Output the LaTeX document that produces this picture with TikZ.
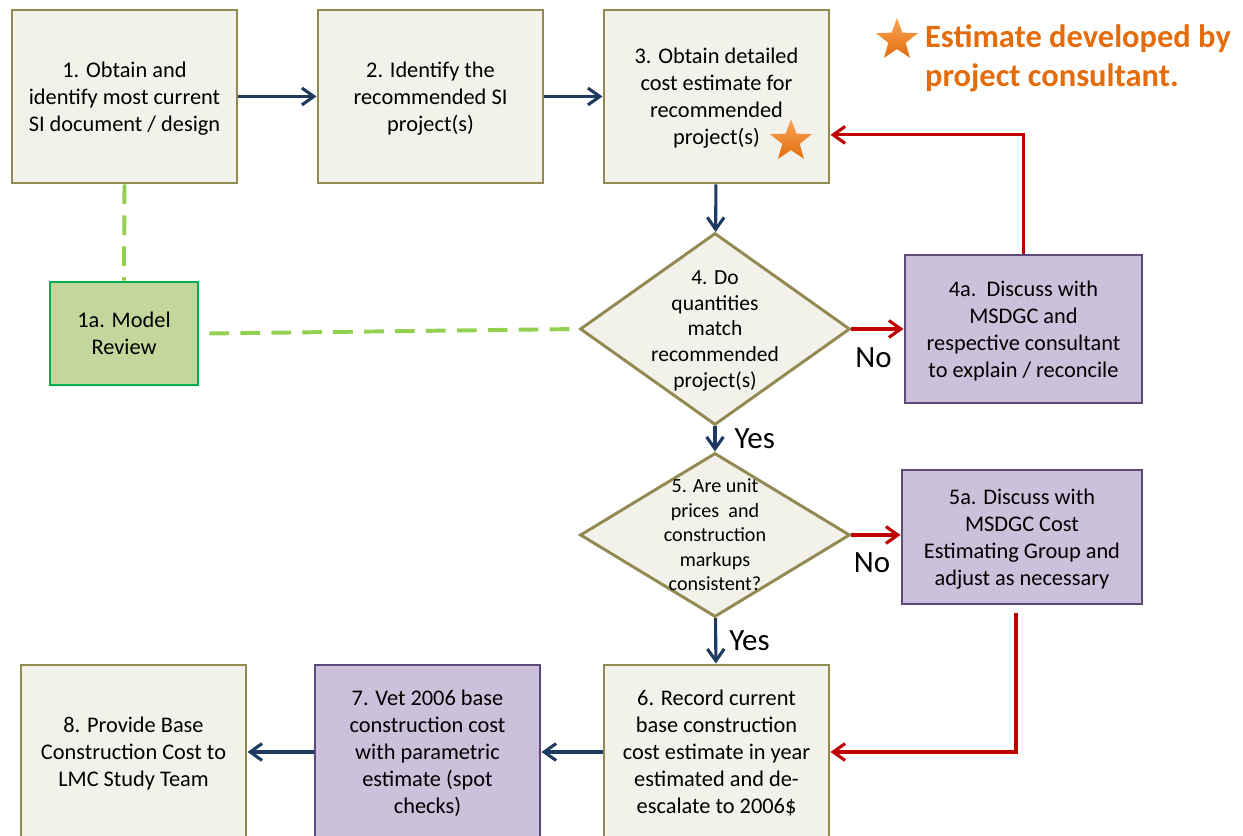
\documentclass[tikz,border=0pt]{standalone}
\usepackage{fontspec}
\setmainfont{Carlito}
\usepackage{xcolor}
\usepackage{tikz}
\usetikzlibrary{arrows.meta,positioning,shapes.geometric,calc}
\definecolor{stepfill}{HTML}{F2F1EA}
\definecolor{stepline}{HTML}{938953}
\definecolor{talkfill}{HTML}{CCC1DA}
\definecolor{talkline}{HTML}{5F497A}
\definecolor{reviewfill}{HTML}{C3D69B}
\definecolor{reviewline}{HTML}{00B050}
\definecolor{dashgreen}{HTML}{92D050}
\definecolor{flownavy}{HTML}{1F3A60}
\definecolor{loopred}{HTML}{C00000}
\definecolor{notecolor}{HTML}{E46C0A}
\definecolor{starlight}{HTML}{F9A65A}
\newcommand{\boxfont}{\fontsize{15.9}{19.2}\selectfont}
\newcommand{\askfont}{\fontsize{15.3}{18.4}\selectfont}
\newcommand{\asksmall}{\fontsize{14.3}{17.4}\selectfont}
\newcommand{\answerfont}{\fontsize{22}{26}\selectfont}
\newcommand{\notefont}{\fontsize{23.1}{27.7}\selectfont\bfseries}
\tikzset{
  stepbox/.style={draw=stepline, line width=2.1pt, fill=stepfill, align=center, inner sep=4pt, text depth=0pt, minimum width=5.625cm, minimum height=4.325cm, font=\boxfont},
  talkbox/.style={draw=talkline, line width=2.1pt, fill=talkfill, align=center, inner sep=4pt, text depth=0pt, font=\boxfont},
  reviewbox/.style={draw=reviewline, line width=2.1pt, fill=reviewfill, align=center, inner sep=4pt, text depth=0pt, minimum width=3.7cm, minimum height=2.575cm, font=\boxfont},
  decision/.style={diamond, draw=stepline, line width=2.1pt, fill=stepfill, inner sep=0pt, minimum width=6.75cm},
  asktext/.style={align=center, inner sep=0pt, text depth=0pt},
  arrow/.style={-{Straight Barb[length=8.5pt, width=12pt]}, line width=2.2pt, draw=flownavy},
  backarrow/.style={-{Straight Barb[length=8.5pt, width=12pt]}, line width=2.2pt, draw=loopred},
  linkdash/.style={draw=dashgreen, line width=2.8pt, dash pattern=on 14pt off 8pt},
  answer/.style={font=\answerfont, inner sep=0pt},
  markstar/.style={star, star points=5, star point ratio=2.4, minimum size=1.1cm, inner sep=0pt, draw=none, top color=starlight, bottom color=notecolor}
}

\begin{document}
\begin{tikzpicture}
  \useasboundingbox (0,0) rectangle (31.075,20.9);

  % top row
  \node[stepbox] (s1) at (3.1125,18.4875) {1. Obtain and\\identify most current\\SI document / design};
  \node[stepbox] (s2) at (10.7625,18.4875) {2. Identify the\\recommended SI\\project(s)};
  \node[stepbox] (s3) at (17.9125,18.4875) {3. Obtain detailed\\cost estimate for\\recommended\\project(s)};
  \node[markstar] (s3star) at (19.775,17.375) {};

  % checks
  \node[decision, minimum height=4.8cm, label={[asktext, font=\askfont]center:{4. Do\\quantities\\match\\recommended\\project(s)}}] (q4) at (17.875,12.675) {};
  \node[talkbox, minimum width=5.925cm, minimum height=3.7cm] (d4a) at (25.5875,12.675) {4a.\ \ Discuss with\\MSDGC and\\respective consultant\\to explain / reconcile};
  \node[reviewbox] (m1a) at (3.1,12.5625) {1a. Model\\Review};
  \node[decision, minimum height=4.1cm, label={[asktext, font=\asksmall]center:{5. Are unit\\prices\ \ and\\construction\\markups\\consistent?}}] (q5) at (17.875,7.525) {};
  \node[talkbox, minimum width=6cm, minimum height=3.35cm] (d5a) at (25.55,7.475) {5a. Discuss with\\MSDGC Cost\\Estimating Group and\\adjust as necessary};

  % bottom row
  \node[stepbox, minimum height=4.35cm] (s6) at (17.9125,2.1) {6. Record current\\base construction\\cost estimate in year\\estimated and de-\\escalate to 2006\$};
  \node[talkbox, minimum width=5.625cm, minimum height=4.35cm] (s7) at (10.6875,2.1) {7. Vet 2006 base\\construction cost\\with parametric\\estimate (spot\\checks)};
  \node[stepbox, minimum height=4.35cm] (s8) at (3.3375,2.1) {8. Provide Base\\Construction Cost to\\LMC Study Team};

  % legend
  \node[markstar] (notestar) at (22.425,19.9) {};
  \node[anchor=west, align=left, text=notecolor, font=\notefont, inner sep=0pt] (note) at (23.12,19.45) {Estimate developed by\\project consultant.};

  % main flow
  \draw[arrow] (s1) -- (s2);
  \draw[arrow] (s2) -- (s3);
  \draw[arrow] (s3) -- (q4);
  \draw[arrow] (q4) -- node[answer, midway, right=0.45cm] {Yes} (q5);
  \draw[arrow] (q5) -- node[answer, midway, right=0.3cm] {Yes} (s6);
  \draw[arrow] (s6) -- (s7);
  \draw[arrow] (s7) -- (s8);

  % loops back
  \draw[backarrow] (q4) -- node[answer, midway, yshift=-0.72cm, xshift=-0.1cm] {No} (d4a);
  \draw[backarrow] (d4a.north) |- ([yshift=-0.96cm]s3.east);
  \draw[backarrow] (q5.east) -- node[answer, midway, yshift=-0.68cm, xshift=-0.1cm] {No} (q5.east -| d5a.west);
  \draw[backarrow] ([shift={(-0.15,-0.2)}]d5a.south) |- (s6.east);

  % model review links
  \draw[linkdash] (s1.south) -- (m1a.north);
  \draw[linkdash] ([xshift=0.25cm]m1a.east) -- (q4.west);
\end{tikzpicture}
\end{document}
